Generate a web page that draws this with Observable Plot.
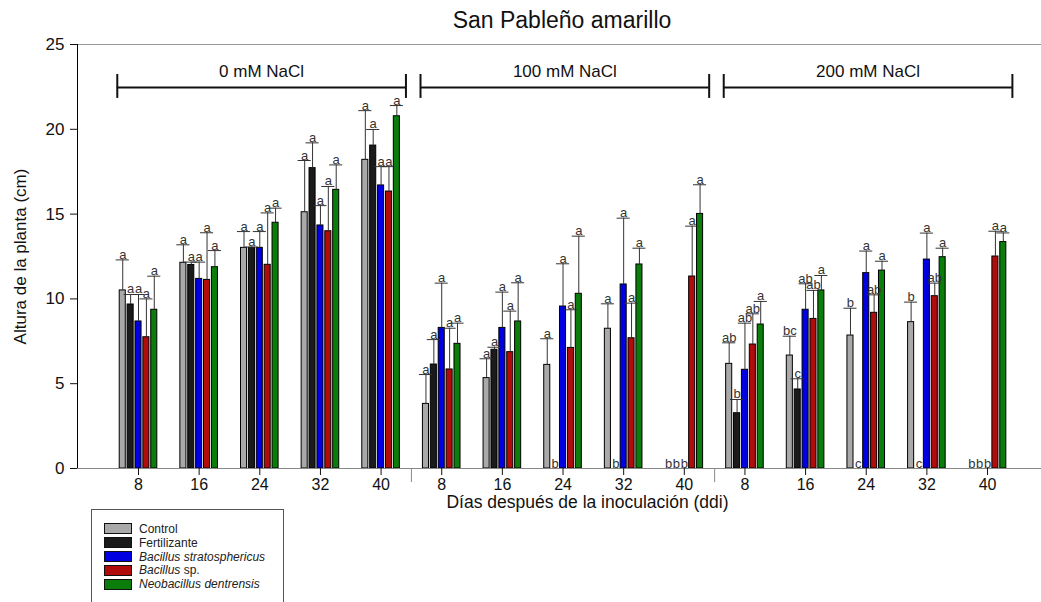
<!DOCTYPE html>
<html>
<head>
<meta charset="utf-8">
<script src="https://cdn.jsdelivr.net/npm/d3@7"></script>
<script src="https://cdn.jsdelivr.net/npm/@observablehq/plot@0.6"></script>
<style>
  html, body { margin: 0; padding: 0; overflow: hidden; background: #fff; }
  body { position: relative; width: 1041px; height: 602px; font-family: "Liberation Sans", Arial, sans-serif; }
  #title { height: 36px; line-height: 40px; font-size: 23px; color: #111; text-align: center; padding-left: 83px; box-sizing: border-box; width: 1041px; }
  #chart svg { display: block; }
  #legend { position: absolute; left: 91px; top: 509px; width: 193px; height: 104px; border: 1px solid #555; box-sizing: border-box; padding: 12px 0 0 12px; background: #fff; }
  .row { display: flex; align-items: center; height: 13.8px; }
  .sw { width: 28px; height: 11px; border: 1px solid #111; box-sizing: border-box; flex: none; }
  .lab { margin-left: 7px; font-size: 12px; color: #222; white-space: nowrap; }
</style>
</head>
<body>
<div id="title">San Pableño amarillo</div>
<div id="chart"></div>
<div id="legend"></div>
<script>
// ---- data ----
const days = [8, 16, 24, 32, 40];
const salinities = ["0 mM NaCl", "100 mM NaCl", "200 mM NaCl"];
const treatments = ["Control", "Fertilizante", "Bacillus stratosphericus", "Bacillus sp.", "Neobacillus dentrensis"];
const colors = ["#a9a9a9", "#1b1b1b", "#0000e0", "#b00c0c", "#0a7d0a"];

// means (cm): 0 mM days 8..40, 100 mM days 8..40, 200 mM days 8..40
const control      = [10.5, 12.13, 13.01, 15.11, 18.2,  3.81, 5.33, 6.11, 8.24, 0,      6.17, 6.66, 7.84, 8.63, 0];
const fertilizante = [9.67, 12.0, 13.01, 17.71, 19.04,  6.13, 7.0, 0, 0, 0,             3.26, 4.66, 0, 0, 0];
const stratos      = [8.67, 11.18, 13.01, 14.33, 16.69, 8.29, 8.29, 9.55, 10.85, 0,     5.82, 9.36, 11.52, 12.32, 0];
const bacillusSp   = [7.74, 11.12, 12.01, 13.99, 16.33, 5.84, 6.86, 7.11, 7.68, 11.32,  7.31, 8.82, 9.18, 10.16, 12.5];
const neobacillus  = [9.36, 11.87, 14.49, 16.43, 20.77, 7.35, 8.67, 10.3, 12.03, 15.01, 8.49, 10.5, 11.67, 12.46, 13.35];

// error bars (cm)
const controlErr      = [1.8, 1.06, 0.96, 3.05, 2.9,   1.73, 1.14, 1.54, 1.47, 0,    1.24, 1.14, 1.61, 1.18, 0];
const fertilizanteErr = [0.59, 0.17, 0.05, 1.49, 0.95, 1.47, 0.15, 0, 0, 0,          0.81, 0.63, 0, 0, 0];
const stratosErr      = [1.59, 0.99, 0.96, 1.17, 1.11, 2.64, 2.11, 2.52, 3.91, 0,    2.75, 1.53, 1.3, 1.56, 0];
const bacillusSpErr   = [2.26, 2.78, 3.06, 2.64, 1.47, 2.43, 2.42, 2.25, 2.07, 2.97, 1.81, 1.68, 1.06, 0.77, 1.49];
const neobacillusErr  = [1.98, 0.98, 0.86, 1.47, 0.63, 1.22, 2.28, 3.4, 0.96, 1.72,  1.36, 0.88, 0.55, 0.53, 0.54];

// significance letters
const controlLet      = ["a","a","a","a","a", "a","a","a","a","b", "ab","bc","b","b","b"];
const fertilizanteLet = ["a","a","a","a","a", "a","a","b","b","b", "b","c","c","c","b"];
const stratosLet      = ["a","a","a","a","a", "a","a","a","a","b", "ab","ab","a","a","b"];
const bacillusSpLet   = ["a","a","a","a","a", "a","a","a","a","a", "ab","ab","ab","ab","a"];
const neobacillusLet  = ["a","a","a","a","a", "a","a","a","a","a", "a","a","a","a","a"];

const yLabel = "Altura de la planta (cm)";
const xLabel = "Días después de la inoculación (ddi)";

// ---- build table ----
const means = [control, fertilizante, stratos, bacillusSp, neobacillus];
const errs = [controlErr, fertilizanteErr, stratosErr, bacillusSpErr, neobacillusErr];
const lets = [controlLet, fertilizanteLet, stratosLet, bacillusSpLet, neobacillusLet];
const rows = [];
means.forEach((arr, t) => arr.forEach((v, i) => rows.push({
  ci: i, ti: t, treatment: treatments[t], value: v, err: errs[t][i], top: v + errs[t][i], letter: lets[t][i]
})));

const nPer = days.length;
const slot = 0.13, half = 0.05, cap = 0.108;
const xc = d => d.ci + (d.ti - 2) * slot;
const xMin = -1.006, xMax = 14.89;
const withErr = rows.filter(d => d.err > 0);

const brackets = salinities.map((s, g) => ({label: s, x1: g * nPer - 0.35, x2: g * nPer + nPer - 1 + 0.41}));
const bracketEnds = brackets.flatMap(b => [b.x1, b.x2]);
const bracketY = 22.46, bracketLo = 21.82, bracketHi = 23.23, bracketTextY = 23.41;

const chart = Plot.plot({
  width: 1041,
  height: 477,
  marginLeft: 77,
  marginRight: 0,
  marginTop: 8,
  marginBottom: 45,
  style: {fontFamily: "'Liberation Sans', Arial, sans-serif", color: "#111", background: "#fff"},
  x: {domain: [xMin, xMax]},
  y: {domain: [0, 25]},
  color: {domain: treatments, range: colors},
  marks: [
    Plot.ruleY([25], {stroke: "#999"}),
    Plot.rectY(rows, {x1: d => xc(d) - half, x2: d => xc(d) + half, y1: 0, y2: "value", fill: "treatment", stroke: "#000", strokeWidth: 1}),
    Plot.ruleX(withErr, {x: xc, y1: "value", y2: "top", stroke: "#333", strokeWidth: 1}),
    Plot.ruleY(withErr, {x1: d => xc(d) - cap, x2: d => xc(d) + cap, y: "top", stroke: "#333", strokeWidth: 1}),
    Plot.text(rows, {x: xc, y: "top", text: "letter", lineAnchor: "bottom", dy: -1, fontSize: 13, fill: "#333"}),
    Plot.ruleY(brackets, {x1: "x1", x2: "x2", y: () => bracketY, stroke: "#111", strokeWidth: 2}),
    Plot.ruleX(bracketEnds, {x: d => d, y1: () => bracketLo, y2: () => bracketHi, stroke: "#111", strokeWidth: 2}),
    Plot.text(brackets, {x: d => (d.x1 + d.x2) / 2, y: () => bracketTextY, text: "label", fontSize: 17, fill: "#111"}),
    Plot.ruleY([0], {stroke: "#888"}),
    Plot.ruleX([xMin], {stroke: "#000"}),
    Plot.axisY({ticks: [0, 5, 10, 15, 20, 25], tickSize: 7, tickPadding: 6, fontSize: 17, label: yLabel, labelAnchor: "center", labelArrow: "none", labelOffset: 64}),
    Plot.axisX(d3.range(salinities.length * nPer), {tickFormat: i => days[i % nPer], tickSize: 7, tickPadding: 3, fontSize: 16, label: null}),
    Plot.axisX([nPer - 0.5, 2 * nPer - 0.5], {tickSize: 14, tickFormat: () => "", stroke: "#888", label: null}),
    Plot.text([xLabel], {frameAnchor: "bottom", dy: 39, dx: 28, fontSize: 17.5, fill: "#111"})
  ]
});
document.getElementById("chart").appendChild(chart);

// ---- legend ----
const legend = document.getElementById("legend");
treatments.forEach((name, t) => {
  const row = document.createElement("div");
  row.className = "row";
  const sw = document.createElement("div");
  sw.className = "sw";
  sw.style.background = colors[t];
  const lab = document.createElement("div");
  lab.className = "lab";
  if (t < 2) lab.textContent = name;
  else lab.innerHTML = name.split(" ").map(w => w === "sp." ? w : "<i>" + w + "</i>").join(" ");
  row.appendChild(sw); row.appendChild(lab);
  legend.appendChild(row);
});
</script>
</body>
</html>
